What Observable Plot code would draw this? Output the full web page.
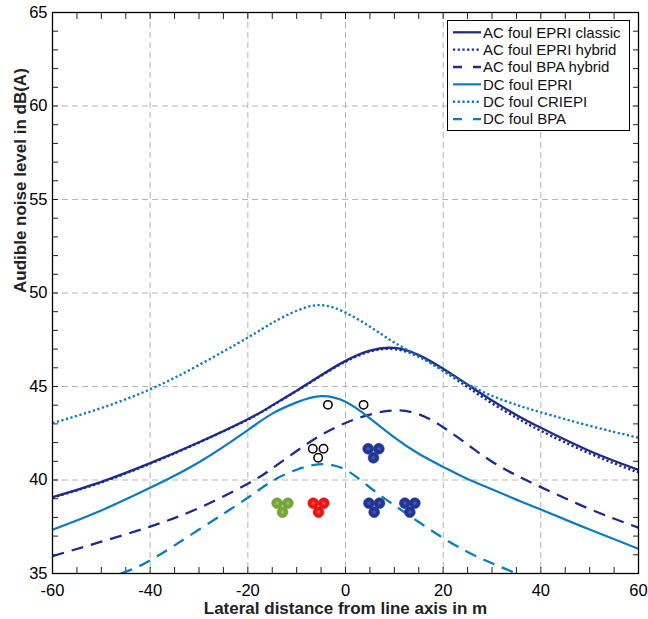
<!DOCTYPE html>
<html>
<head>
<meta charset="utf-8">
<script src="https://cdn.jsdelivr.net/npm/d3@7"></script>
<script src="https://cdn.jsdelivr.net/npm/@observablehq/plot@0.6"></script>
<style>
  body { margin: 0; background: #fff; }
  #chart svg { display: block; }
</style>
</head>
<body>
<div id="chart"></div>
<script>
// Lateral distance from the line axis (m) at which the levels are given
const distance = [-60, -50, -40, -30, -20, -15, -10, -5, 0, 5, 10, 15, 20, 25, 30, 35, 40, 50, 60];

// Audible noise levels in dB(A), foul weather
const acEpriClassic = [39.08, 39.90, 40.90, 42.02, 43.25, 43.99, 44.78, 45.60, 46.37, 46.92, 47.06, 46.68, 45.95, 45.10, 44.25, 43.48, 42.79, 41.55, 40.54];
const acEpriHybrid  = [39.05, 39.87, 40.87, 42.00, 43.23, 43.97, 44.76, 45.57, 46.33, 46.87, 47.00, 46.60, 45.84, 44.97, 44.10, 43.33, 42.63, 41.42, 40.40];
const acBpaHybrid   = [35.93, 36.70, 37.51, 38.50, 39.80, 40.62, 41.55, 42.40, 43.05, 43.50, 43.72, 43.52, 42.82, 41.90, 40.98, 40.25, 39.62, 38.45, 37.45];
const dcEpri        = [37.34, 38.37, 39.58, 40.95, 42.67, 43.55, 44.15, 44.48, 44.18, 43.30, 42.28, 41.40, 40.70, 40.05, 39.50, 38.95, 38.42, 37.35, 36.32];
const dcCriepi      = [43.04, 43.85, 44.85, 46.15, 47.62, 48.40, 49.05, 49.35, 48.95, 48.20, 47.35, 46.62, 45.86, 45.12, 44.50, 44.02, 43.62, 42.90, 42.26];

// DC BPA stays above the 35 dB(A) floor only between these distances
const dcBpaDistance = [-46, -40, -30, -20, -15, -10, -5, 0, 5, 10, 15, 20, 25, 30, 35];
const dcBpa         = [35.00, 35.70, 37.35, 39.05, 39.95, 40.55, 40.85, 40.55, 39.60, 38.65, 37.75, 36.90, 36.15, 35.55, 35.00];

const seriesNames = [
  "AC foul EPRI classic", "AC foul EPRI hybrid", "AC foul BPA hybrid",
  "DC foul EPRI", "DC foul CRIEPI", "DC foul BPA"
];

// Conductor positions on the tower head, shown in chart units (m, dB(A))
const earthWires     = [[-3.6, 44.02], [3.7, 44.02]];
const unusedBundle   = [[-6.7, 41.67], [-4.5, 41.67], [-5.6, 41.19]];
const dcPoleUpper    = [[4.64, 41.67], [6.83, 41.67], [5.73, 41.19]];
const acPhaseGreen   = [[-14.0, 38.76], [-11.8, 38.76], [-12.9, 38.28]];
const acPhaseRed     = [[-6.6, 38.76], [-4.44, 38.76], [-5.53, 38.28]];
const acPhaseBlueA   = [[4.8, 38.76], [6.96, 38.76], [5.87, 38.28]];
const acPhaseBlueB   = [[12.15, 38.76], [14.2, 38.76], [13.17, 38.28]];

// Axis ticks
const xMajor = [-60, -40, -20, 0, 20, 40, 60];
const xMinor = d3.range(-60, 61, 5);
const yMajor = [35, 40, 45, 50, 55, 60, 65];
const yMinor = d3.range(35, 66, 1);
const xGrid = [-40, -20, 0, 20, 40];
const yGrid = [40, 45, 50, 55, 60];

// Styling
const AC = "#1d2b8c";
const DC = "#0b7bc2";
const DASH = "12,8";
const DOT = "2.2,2.5";
const styles = [
  {stroke: AC, dash: null, width: 2.3},
  {stroke: AC, dash: DOT, width: 2.4},
  {stroke: AC, dash: DASH, width: 2.3},
  {stroke: DC, dash: null, width: 2.2},
  {stroke: DC, dash: DOT, width: 2.4},
  {stroke: DC, dash: DASH, width: 2.3}
];
const seriesData = [
  [distance, acEpriClassic],
  [distance, acEpriHybrid],
  [distance, acBpaHybrid],
  [distance, dcEpri],
  [distance, dcCriepi],
  [dcBpaDistance, dcBpa]
].map(([xs, ys]) => xs.map((x, i) => ({x, y: ys[i]})));

const pts = (arr) => arr.map(([x, y]) => ({x, y}));
const font = "'Liberation Sans', Arial, Helvetica, sans-serif";

const chart = Plot.plot({
  width: 648,
  height: 619,
  marginLeft: 52,
  marginRight: 10,
  marginTop: 12,
  marginBottom: 46,
  style: {fontFamily: font, background: "white", color: "black"},
  x: {domain: [-60, 60]},
  y: {domain: [35, 65]},
  marks: [
    Plot.gridX(xGrid, {stroke: "#b5b5b5", strokeOpacity: 1, strokeWidth: 1, strokeDasharray: "6,4"}),
    Plot.gridY(yGrid, {stroke: "#b5b5b5", strokeOpacity: 1, strokeWidth: 1, strokeDasharray: "6,4"}),

    // inward ticks on all four sides
    Plot.axisX(xMinor, {anchor: "bottom", tickSize: 6, dy: -6, tickFormat: () => "", label: null, stroke: "#222"}),
    Plot.axisX(xMinor, {anchor: "top", tickSize: 6, dy: 6, tickFormat: () => "", label: null, stroke: "#222"}),
    Plot.axisY(yMinor, {anchor: "left", tickSize: 6, dx: 6, tickFormat: () => "", label: null, stroke: "#222"}),
    Plot.axisY(yMinor, {anchor: "right", tickSize: 6, dx: -6, tickFormat: () => "", label: null, stroke: "#222"}),

    // tick labels
    Plot.axisX(xMajor, {anchor: "bottom", tickSize: 0, tickPadding: 11, fontSize: 16.5, label: null, tickFormat: d => String(d)}),
    Plot.axisY(yMajor, {anchor: "left", tickSize: 0, tickPadding: 5, fontSize: 16.5, label: null}),

    ...seriesData.map((d, i) => Plot.line(d, {
      x: "x", y: "y", curve: "natural",
      stroke: styles[i].stroke,
      strokeWidth: styles[i].width,
      strokeDasharray: styles[i].dash,
      strokeLinecap: "butt",
      clip: true
    })),

    Plot.dot(pts([...earthWires, ...unusedBundle]), {x: "x", y: "y", r: 4.2, stroke: "black", strokeWidth: 1.5, fill: "white"}),
    Plot.dot(pts([...dcPoleUpper, ...acPhaseBlueA, ...acPhaseBlueB]), {x: "x", y: "y", r: 5.4, fill: "url(#ballBlue)", stroke: "#24358f", strokeWidth: 0.6}),
    Plot.dot(pts(acPhaseGreen), {x: "x", y: "y", r: 5.4, fill: "url(#ballGreen)", stroke: "#6f9e33", strokeWidth: 0.6}),
    Plot.dot(pts(acPhaseRed), {x: "x", y: "y", r: 5.4, fill: "url(#ballRed)", stroke: "#e01010", strokeWidth: 0.6}),

    Plot.frame({stroke: "black", strokeWidth: 1.3}),

    Plot.text(["Lateral distance from line axis in m"], {frameAnchor: "bottom", lineAnchor: "middle", dy: 35, fontSize: 17, fontWeight: "bold", fill: "#222"}),
    Plot.text(["Audible noise level in dB(A)"], {frameAnchor: "left", dx: -32, rotate: -90, fontSize: 17, fontWeight: "bold", fill: "#222"})
  ]
});

document.getElementById("chart").appendChild(chart);

// shaded fills for the conductor markers
const svg = d3.select(chart);
const defs = svg.insert("defs", ":first-child");
[["ballBlue", "#5567bd", "#233594"], ["ballGreen", "#a3cc6a", "#74a63a"], ["ballRed", "#ff6b6b", "#ee1414"]]
  .forEach(([id, inner, outer]) => {
    const g = defs.append("radialGradient").attr("id", id).attr("cx", "50%").attr("cy", "50%").attr("r", "50%");
    g.append("stop").attr("offset", "0%").attr("stop-color", inner);
    g.append("stop").attr("offset", "45%").attr("stop-color", outer);
    g.append("stop").attr("offset", "100%").attr("stop-color", outer);
  });

// legend box in the upper right corner
const legend = svg.append("g")
  .attr("font-family", font)
  .attr("font-size", 15)
  .attr("text-anchor", "start");
legend.append("rect")
  .attr("x", 447.5).attr("y", 20.5).attr("width", 182).attr("height", 110)
  .attr("fill", "white").attr("stroke", "black").attr("stroke-width", 1);
seriesNames.forEach((name, i) => {
  const y = 32.3 + i * 17.35;
  const s = styles[i];
  legend.append("line")
    .attr("x1", 453).attr("x2", 481).attr("y1", y).attr("y2", y)
    .attr("stroke", s.stroke).attr("stroke-width", s.width)
    .attr("stroke-dasharray", s.dash === DASH ? "9,11" : s.dash);
  legend.append("text")
    .attr("x", 483).attr("y", y).attr("dy", "0.36em")
    .attr("text-anchor", "start").attr("fill", "#111")
    .text(name);
});
</script>
</body>
</html>
